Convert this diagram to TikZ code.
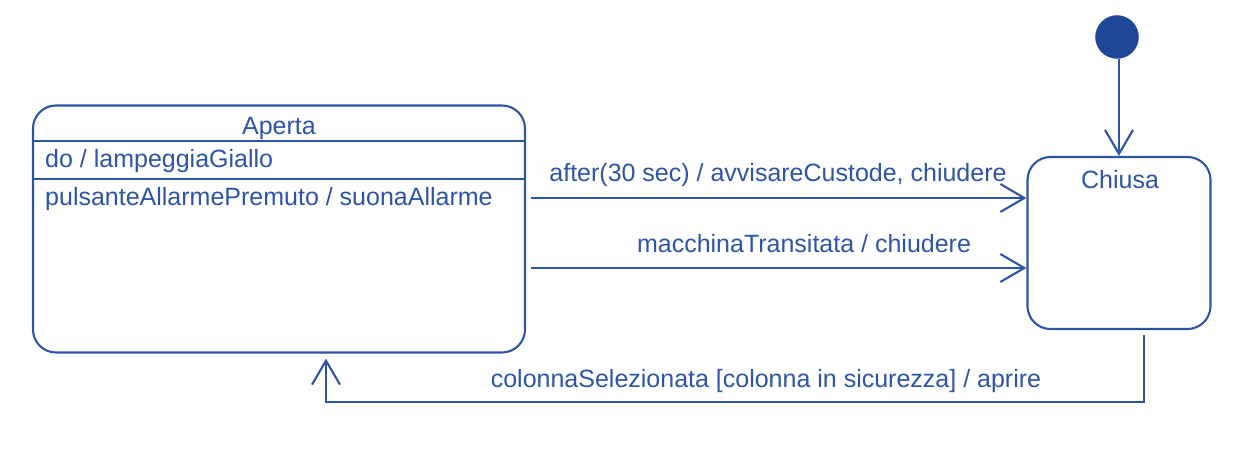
\documentclass[tikz,border=0pt]{standalone}
\usepackage{fontspec}
\setmainfont{Liberation Sans}
\usepackage{tikz}
\usetikzlibrary{positioning,arrows.meta}
\definecolor{umlblue}{RGB}{46,84,166}
\definecolor{umldark}{RGB}{30,70,150}

\begin{document}
\begin{tikzpicture}[x=1pt,y=-1pt,
  state/.style={rectangle,rounded corners=23pt,draw=umlblue,line width=2.1pt,inner sep=0pt},
  txt/.style={text=umlblue,font=\fontsize{25}{29}\selectfont,inner sep=0pt},
  trans/.style={-{Straight Barb[length=24pt,width=28pt]},umlblue,line width=2.1pt},
  init/.style={circle,fill=umldark,draw=umldark,minimum size=43pt,inner sep=0pt}
]
\useasboundingbox (0,0) rectangle (1250,476);
\node[state,minimum width=492pt,minimum height=247pt] (aperta) at (279,229) {};
\node[state,minimum width=183pt,minimum height=172pt] (chiusa) at (1119,243) {};
\node[init] (start) at (1117,37) {};
\draw[umlblue,line width=2.1pt] (aperta.west |- 0,141) -- (aperta.east |- 0,141);
\draw[umlblue,line width=2.1pt] (aperta.west |- 0,179) -- (aperta.east |- 0,179);
\node[txt] (nome) at (279,128) {Aperta};
\node[txt,anchor=west] (attivita) at (45,161) {do / lampeggiaGiallo};
\node[txt,anchor=west] (interna) at (45,199) {pulsanteAllarmePremuto / suonaAllarme};
\node[txt] (nomechiusa) at (1120,180) {Chiusa};
\node[txt] (lbldopo) at (778,175) {after(30 sec) / avvisareCustode, chiudere};
\node[txt] (lblmacchina) at (804,244) {macchinaTransitata / chiudere};
\node[txt] (lblcolonna) at (766,381) {colonnaSelezionata [colonna in sicurezza] / aprire};
\draw[trans] (start.south -| chiusa.north) -- (chiusa.north);
\draw[trans] ([xshift=5pt]aperta.east |- 0,198) -- (chiusa.west |- 0,198);
\draw[trans] ([xshift=5pt]aperta.east |- 0,268) -- (chiusa.west |- 0,268);
\draw[trans] ([xshift=25pt,yshift=-5pt]chiusa.south) -- ++(0,67) -| ([xshift=47pt,yshift=-5pt]aperta.south);
\end{tikzpicture}
\end{document}
